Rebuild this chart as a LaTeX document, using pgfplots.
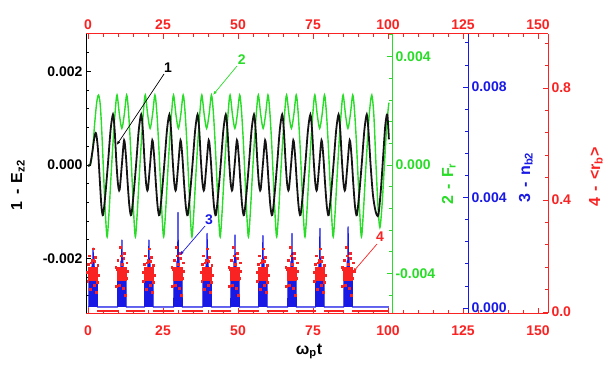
\documentclass[border=0pt]{standalone}
\usepackage{pgfplots}
\pgfplotsset{compat=1.18}
\usepackage{fontspec}
\setmainfont{Liberation Sans}
\usetikzlibrary{arrows.meta}
\definecolor{myred}{RGB}{250,35,35}
\definecolor{mygreen}{RGB}{40,220,40}
\definecolor{myblue}{RGB}{25,25,230}
\definecolor{myblack}{RGB}{20,20,20}
\begin{document}
\begin{tikzpicture}
\useasboundingbox (0pt,0pt) rectangle (604pt,365pt);
\pgfplotsset{every axis/.append style={scale only axis, anchor=south west, at={(86pt,52pt)}, height=279pt, xmin=-0.667,
  tick align=inside, major tick length=5pt, minor tick length=3pt,
  axis line style={-, line width=1pt}, every tick/.append style={line width=0.8pt},
  tick label style={font=\fontsize{14}{16}\selectfont\bfseries},
  /pgf/number format/assume math mode=true,
  scaled y ticks=false, scaled x ticks=false}}
% ---------------- green axis (2 - F_r)
\begin{axis}[width=306pt, xmax=101.333, ymin=-0.005456, ymax=0.004830,
  axis x line=none, axis y line*=right, y axis line style={mygreen},
  ytick={-0.004,0,0.004}, yticklabels={-0.004,0.000,0.004},
  minor ytick={-0.0048,-0.0032,-0.0024,-0.0016,-0.0008,0.0008,0.0016,0.0024,0.0032,0.0048},
  ytick style={mygreen}, yticklabel style={mygreen}]
\addplot[mygreen, line width=1.4pt, smooth, tension=0.5] coordinates {
(0,0) (0.8,0) (1.5,0.0005) (2.2,0.0015) (2.9,0.0023) (3.5,0.00258) (4.1,0.0022) (4.7,0.001) (5.3,-0.0006) (5.85,-0.0019)
(6.38,-0.00265) (6.98,-0.0018) (7.68,-0.0004) (8.38,0.0009) (9.08,0.002) (9.68,0.00258) (10.48,0.00185) (11.28,0.00135) (12.08,0.00185) (12.88,0.00258) (13.48,0.002) (14.08,0.0009) (14.68,-0.0005) (15.28,-0.0019)
(15.8,-0.00265) (16.4,-0.0018) (17.1,-0.0004) (17.8,0.0009) (18.5,0.002) (19.1,0.00258) (19.9,0.00185) (20.7,0.00135) (21.5,0.00185) (22.3,0.00258) (22.9,0.002) (23.5,0.0009) (24.1,-0.0005) (24.7,-0.0019)
(25.22,-0.00265) (25.82,-0.0018) (26.52,-0.0004) (27.22,0.0009) (27.92,0.002) (28.52,0.00258) (29.32,0.00185) (30.12,0.00135) (30.92,0.00185) (31.72,0.00258) (32.32,0.002) (32.92,0.0009) (33.52,-0.0005) (34.12,-0.0019)
(34.64,-0.00265) (35.24,-0.0018) (35.94,-0.0004) (36.64,0.0009) (37.34,0.002) (37.94,0.00258) (38.74,0.00185) (39.54,0.00135) (40.34,0.00185) (41.14,0.00258) (41.74,0.002) (42.34,0.0009) (42.94,-0.0005) (43.54,-0.0019)
(44.06,-0.00265) (44.66,-0.0018) (45.36,-0.0004) (46.06,0.0009) (46.76,0.002) (47.36,0.00258) (48.16,0.00185) (48.96,0.00135) (49.76,0.00185) (50.56,0.00258) (51.16,0.002) (51.76,0.0009) (52.36,-0.0005) (52.96,-0.0019)
(53.48,-0.00265) (54.08,-0.0018) (54.78,-0.0004) (55.48,0.0009) (56.18,0.002) (56.78,0.00258) (57.58,0.00185) (58.38,0.00135) (59.18,0.00185) (59.98,0.00258) (60.58,0.002) (61.18,0.0009) (61.78,-0.0005) (62.38,-0.0019)
(62.9,-0.00265) (63.5,-0.0018) (64.2,-0.0004) (64.9,0.0009) (65.6,0.002) (66.2,0.00258) (67.0,0.00185) (67.8,0.00135) (68.6,0.00185) (69.4,0.00258) (70.0,0.002) (70.6,0.0009) (71.2,-0.0005) (71.8,-0.0019)
(72.32,-0.00265) (72.92,-0.0018) (73.62,-0.0004) (74.32,0.0009) (75.02,0.002) (75.62,0.00258) (76.42,0.00185) (77.22,0.00135) (78.02,0.00185) (78.82,0.00258) (79.42,0.002) (80.02,0.0009) (80.62,-0.0005) (81.22,-0.0019)
(81.74,-0.00265) (82.34,-0.0018) (83.04,-0.0004) (83.74,0.0009) (84.44,0.002) (85.04,0.00258) (85.84,0.00185) (86.64,0.00135) (87.44,0.00185) (88.24,0.00258) (88.84,0.002) (89.44,0.0009) (90.04,-0.0005) (90.64,-0.0019)
(91.16,-0.00265) (91.76,-0.0018) (92.46,-0.0004) (93.16,0.0009) (93.86,0.002) (94.6,0.00258) (95.3,0.0018) (96.0,0) (96.7,-0.0016) (97.3,-0.0023) (98.0,-0.0015) (98.8,0) (99.6,0.0015) (100.3,0.0023)
};
\end{axis}
% ---------------- black axis (1 - E_z2) with bottom x axis
\begin{axis}[width=462pt, xmax=153.333, ymin=-0.003166, ymax=0.002802,
  axis x line*=bottom, axis y line*=left, x axis line style={myred}, y axis line style={black},
  xtick={0,25,50,75,100,125,150}, xticklabels={0,25,50,75,100,125,150},
  minor xtick={5,10,15,20,30,35,40,45,55,60,65,70,80,85,90,95,105,110,115,120,130,135,140,145},
  xtick style={myred}, xticklabel style={myred, yshift=-9pt},
  ytick={-0.002,0,0.002}, yticklabels={-0.002,0.000,0.002},
  minor ytick={-0.0028,-0.0024,-0.0016,-0.0012,-0.0008,-0.0004,0.0004,0.0008,0.0012,0.0016,0.0024},
  ytick style={black}, yticklabel style={black}]
\addplot[myblack, line width=1.8pt, smooth, tension=0.5] coordinates {
(0,0) (0.7,0) (1.5,0.0003) (2.1,0.00058) (2.67,0.00068) (3.3,0.00035) (4.0,-0.0004) (4.5,-0.0009) (5.03,-0.00107) (5.83,-0.0006) (6.68,0.00005) (7.53,0.00075)
(8.33,0.00108) (8.88,0.00075) (9.43,0.0001) (9.98,-0.0004) (10.53,-0.00053) (11.28,0) (12.03,0.00053) (12.63,0.0002) (13.23,-0.0004) (13.83,-0.0009) (14.43,-0.00107) (15.23,-0.0006) (16.08,0.00005) (16.93,0.00075)
(17.73,0.00108) (18.28,0.00075) (18.83,0.0001) (19.38,-0.0004) (19.93,-0.00053) (20.68,0) (21.43,0.00053) (22.03,0.0002) (22.63,-0.0004) (23.23,-0.0009) (23.83,-0.00107) (24.63,-0.0006) (25.48,0.00005) (26.33,0.00075)
(27.13,0.00108) (27.68,0.00075) (28.23,0.0001) (28.78,-0.0004) (29.33,-0.00053) (30.08,0) (30.83,0.00053) (31.43,0.0002) (32.03,-0.0004) (32.63,-0.0009) (33.23,-0.00107) (34.03,-0.0006) (34.88,0.00005) (35.73,0.00075)
(36.53,0.00108) (37.08,0.00075) (37.63,0.0001) (38.18,-0.0004) (38.73,-0.00053) (39.48,0) (40.23,0.00053) (40.83,0.0002) (41.43,-0.0004) (42.03,-0.0009) (42.63,-0.00107) (43.43,-0.0006) (44.28,0.00005) (45.13,0.00075)
(45.93,0.00108) (46.48,0.00075) (47.03,0.0001) (47.58,-0.0004) (48.13,-0.00053) (48.88,0) (49.63,0.00053) (50.23,0.0002) (50.83,-0.0004) (51.43,-0.0009) (52.03,-0.00107) (52.83,-0.0006) (53.68,0.00005) (54.53,0.00075)
(55.33,0.00108) (55.88,0.00075) (56.43,0.0001) (56.98,-0.0004) (57.53,-0.00053) (58.28,0) (59.03,0.00053) (59.63,0.0002) (60.23,-0.0004) (60.83,-0.0009) (61.43,-0.00107) (62.23,-0.0006) (63.08,0.00005) (63.93,0.00075)
(64.73,0.00108) (65.28,0.00075) (65.83,0.0001) (66.38,-0.0004) (66.93,-0.00053) (67.68,0) (68.43,0.00053) (69.03,0.0002) (69.63,-0.0004) (70.23,-0.0009) (70.83,-0.00107) (71.63,-0.0006) (72.48,0.00005) (73.33,0.00075)
(74.13,0.00108) (74.68,0.00075) (75.23,0.0001) (75.78,-0.0004) (76.33,-0.00053) (77.08,0) (77.83,0.00053) (78.43,0.0002) (79.03,-0.0004) (79.63,-0.0009) (80.23,-0.00107) (81.03,-0.0006) (81.88,0.00005) (82.73,0.00075)
(83.53,0.00108) (84.08,0.00075) (84.63,0.0001) (85.18,-0.0004) (85.73,-0.00053) (86.48,0) (87.23,0.00053) (87.83,0.0002) (88.43,-0.0004) (89.03,-0.0009) (89.63,-0.00107) (90.43,-0.0006) (91.28,0.00005) (92.13,0.00075)
(92.93,0.00108) (93.5,0.00072) (94.2,0) (95.0,-0.00065) (95.9,-0.001) (96.77,-0.00107) (97.6,-0.00055) (98.4,0.0002) (99.1,0.00085) (99.77,0.00108) (100.3,0.00055)
};
\end{axis}
% ---------------- blue axis (3 - n_b2)
\begin{axis}[width=382pt, xmax=126.667, ymin=-0.000181, ymax=0.009919,
  axis x line=none, axis y line*=right, y axis line style={myblue},
  ytick={0,0.004,0.008}, yticklabels={0.000,0.004,0.008},
  minor ytick={0.0008,0.0016,0.0024,0.0032,0.0048,0.0056,0.0064,0.0072,0.0088,0.0096},
  ytick style={myblue}, yticklabel style={myblue}]
\addplot[myblue, fill=myblue, line width=1.2pt, line join=round] coordinates {
(0.0,0.00004) (0.3,0.00004) (0.35,0.0011) (0.55,0.0007) (0.7,0.0012) (0.9,0.0008) (1.05,0.0014) (1.25,0.0009) (1.4,0.0017) (1.58,0.001) (1.7,0.00217) (1.82,0.001) (2.0,0.0018) (2.15,0.0009) (2.35,0.0014) (2.5,0.0008) (2.7,0.0012) (2.85,0.0007) (3.05,0.001) (3.1,0.00004) (3.4,0.00004)
(9.6,0.00004) (9.9,0.00004) (9.95,0.0011) (10.15,0.0007) (10.3,0.0012) (10.5,0.0008) (10.65,0.0014) (10.85,0.0009) (11.0,0.0017) (11.18,0.001) (11.3,0.00246) (11.42,0.001) (11.6,0.0018) (11.75,0.0009) (11.95,0.0014) (12.1,0.0008) (12.3,0.0012) (12.45,0.0007) (12.65,0.001) (12.7,0.00004) (13.0,0.00004)
(18.6,0.00004) (18.9,0.00004) (18.95,0.0011) (19.15,0.0007) (19.3,0.0012) (19.5,0.0008) (19.65,0.0014) (19.85,0.0009) (20.0,0.0017) (20.18,0.001) (20.3,0.00246) (20.42,0.001) (20.6,0.0018) (20.75,0.0009) (20.95,0.0014) (21.1,0.0008) (21.3,0.0012) (21.45,0.0007) (21.65,0.001) (21.7,0.00004) (22.0,0.00004)
(28.3,0.00004) (28.6,0.00004) (28.65,0.0011) (28.85,0.0007) (29.0,0.0012) (29.2,0.0008) (29.35,0.0014) (29.55,0.0009) (29.7,0.0017) (29.88,0.001) (30.0,0.00346) (30.12,0.001) (30.3,0.0018) (30.45,0.0009) (30.65,0.0014) (30.8,0.0008) (31.0,0.0012) (31.15,0.0007) (31.35,0.001) (31.4,0.00004) (31.7,0.00004)
(38.0,0.00004) (38.3,0.00004) (38.35,0.0011) (38.55,0.0007) (38.7,0.0012) (38.9,0.0008) (39.05,0.0014) (39.25,0.0009) (39.4,0.0017) (39.58,0.001) (39.7,0.0027) (39.82,0.001) (40.0,0.0018) (40.15,0.0009) (40.35,0.0014) (40.5,0.0008) (40.7,0.0012) (40.85,0.0007) (41.05,0.001) (41.1,0.00004) (41.4,0.00004)
(47.3,0.00004) (47.6,0.00004) (47.65,0.0011) (47.85,0.0007) (48.0,0.0012) (48.2,0.0008) (48.35,0.0014) (48.55,0.0009) (48.7,0.0017) (48.88,0.001) (49.0,0.00264) (49.12,0.001) (49.3,0.0018) (49.45,0.0009) (49.65,0.0014) (49.8,0.0008) (50.0,0.0012) (50.15,0.0007) (50.35,0.001) (50.4,0.00004) (50.7,0.00004)
(56.6,0.00004) (56.9,0.00004) (56.95,0.0011) (57.15,0.0007) (57.3,0.0012) (57.5,0.0008) (57.65,0.0014) (57.85,0.0009) (58.0,0.0017) (58.18,0.001) (58.3,0.00262) (58.42,0.001) (58.6,0.0018) (58.75,0.0009) (58.95,0.0014) (59.1,0.0008) (59.3,0.0012) (59.45,0.0007) (59.65,0.001) (59.7,0.00004) (60.0,0.00004)
(66.3,0.00004) (66.6,0.00004) (66.65,0.0011) (66.85,0.0007) (67.0,0.0012) (67.2,0.0008) (67.35,0.0014) (67.55,0.0009) (67.7,0.0017) (67.88,0.001) (68.0,0.0027) (68.12,0.001) (68.3,0.0018) (68.45,0.0009) (68.65,0.0014) (68.8,0.0008) (69.0,0.0012) (69.15,0.0007) (69.35,0.001) (69.4,0.00004) (69.7,0.00004)
(75.6,0.00004) (75.9,0.00004) (75.95,0.0011) (76.15,0.0007) (76.3,0.0012) (76.5,0.0008) (76.65,0.0014) (76.85,0.0009) (77.0,0.0017) (77.18,0.001) (77.3,0.00288) (77.42,0.001) (77.6,0.0018) (77.75,0.0009) (77.95,0.0014) (78.1,0.0008) (78.3,0.0012) (78.45,0.0007) (78.65,0.001) (78.7,0.00004) (79.0,0.00004)
(85.0,0.00004) (85.3,0.00004) (85.35,0.0011) (85.55,0.0007) (85.7,0.0012) (85.9,0.0008) (86.05,0.0014) (86.25,0.0009) (86.4,0.0017) (86.58,0.001) (86.7,0.00294) (86.82,0.001) (87.0,0.0018) (87.15,0.0009) (87.35,0.0014) (87.5,0.0008) (87.7,0.0012) (87.85,0.0007) (88.05,0.001) (88.1,0.00004) (88.4,0.00004)
(100.3,0.00004)
};
\end{axis}
% ---------------- red axis (4 - <r_b>) with top x axis
\begin{axis}[width=462pt, xmax=153.333, ymin=-0.0036, ymax=0.9929,
  axis x line*=top, axis y line*=right, x axis line style={myred}, y axis line style={myred},
  xtick={0,25,50,75,100,125,150}, xticklabels={0,25,50,75,100,125,150},
  minor xtick={5,10,15,20,30,35,40,45,55,60,65,70,80,85,90,95,105,110,115,120,130,135,140,145},
  xtick style={myred}, xticklabel style={myred, yshift=1pt},
  ytick={0,0.4,0.8}, yticklabels={0.0,0.4,0.8},
  minor ytick={0.08,0.16,0.24,0.32,0.48,0.56,0.64,0.72,0.88,0.96},
  ytick style={myred}, yticklabel style={myred}, unbounded coords=jump]
\addplot[myred, line width=1.3pt] coordinates {(0,0.004) (0.3,0.004) (0.4,nan) (3.1,0.004) (9.9,0.004) (10,nan) (12.7,0.004) (18.9,0.004) (19,nan) (21.7,0.004) (28.6,0.004) (29,nan) (31.4,0.004) (38.3,0.004) (39,nan) (41.1,0.004) (47.6,0.004) (48,nan) (50.4,0.004) (56.9,0.004) (57,nan) (59.7,0.004) (66.6,0.004) (67,nan) (69.4,0.004) (75.9,0.004) (76,nan) (78.7,0.004) (85.3,0.004) (86,nan) (88.1,0.004) (100.3,0.004)};
\addplot[myred, only marks, mark=square*, mark size=1.7pt, mark options={solid, draw=myred, fill=myred, line width=0pt}] coordinates {
(0.7,0.12) (1.2,0.12) (1.7,0.12) (2.2,0.12) (2.7,0.12) (0.7,0.1305) (1.2,0.1305) (1.7,0.1305) (2.2,0.1305) (2.7,0.1305) (0.7,0.141) (1.2,0.141) (1.7,0.141) (2.2,0.141) (2.7,0.141) (0.7,0.1515) (1.2,0.1515) (1.7,0.1515) (2.2,0.1515) (2.7,0.1515)
(10.3,0.12) (10.8,0.12) (11.3,0.12) (11.8,0.12) (12.3,0.12) (10.3,0.1305) (10.8,0.1305) (11.3,0.1305) (11.8,0.1305) (12.3,0.1305) (10.3,0.141) (10.8,0.141) (11.3,0.141) (11.8,0.141) (12.3,0.141) (10.3,0.1515) (10.8,0.1515) (11.3,0.1515) (11.8,0.1515) (12.3,0.1515)
(19.3,0.12) (19.8,0.12) (20.3,0.12) (20.8,0.12) (21.3,0.12) (19.3,0.1305) (19.8,0.1305) (20.3,0.1305) (20.8,0.1305) (21.3,0.1305) (19.3,0.141) (19.8,0.141) (20.3,0.141) (20.8,0.141) (21.3,0.141) (19.3,0.1515) (19.8,0.1515) (20.3,0.1515) (20.8,0.1515) (21.3,0.1515)
(29.0,0.12) (29.5,0.12) (30.0,0.12) (30.5,0.12) (31.0,0.12) (29.0,0.1305) (29.5,0.1305) (30.0,0.1305) (30.5,0.1305) (31.0,0.1305) (29.0,0.141) (29.5,0.141) (30.0,0.141) (30.5,0.141) (31.0,0.141) (29.0,0.1515) (29.5,0.1515) (30.0,0.1515) (30.5,0.1515) (31.0,0.1515)
(38.7,0.12) (39.2,0.12) (39.7,0.12) (40.2,0.12) (40.7,0.12) (38.7,0.1305) (39.2,0.1305) (39.7,0.1305) (40.2,0.1305) (40.7,0.1305) (38.7,0.141) (39.2,0.141) (39.7,0.141) (40.2,0.141) (40.7,0.141) (38.7,0.1515) (39.2,0.1515) (39.7,0.1515) (40.2,0.1515) (40.7,0.1515)
(48.0,0.12) (48.5,0.12) (49.0,0.12) (49.5,0.12) (50.0,0.12) (48.0,0.1305) (48.5,0.1305) (49.0,0.1305) (49.5,0.1305) (50.0,0.1305) (48.0,0.141) (48.5,0.141) (49.0,0.141) (49.5,0.141) (50.0,0.141) (48.0,0.1515) (48.5,0.1515) (49.0,0.1515) (49.5,0.1515) (50.0,0.1515)
(57.3,0.12) (57.8,0.12) (58.3,0.12) (58.8,0.12) (59.3,0.12) (57.3,0.1305) (57.8,0.1305) (58.3,0.1305) (58.8,0.1305) (59.3,0.1305) (57.3,0.141) (57.8,0.141) (58.3,0.141) (58.8,0.141) (59.3,0.141) (57.3,0.1515) (57.8,0.1515) (58.3,0.1515) (58.8,0.1515) (59.3,0.1515)
(67.0,0.12) (67.5,0.12) (68.0,0.12) (68.5,0.12) (69.0,0.12) (67.0,0.1305) (67.5,0.1305) (68.0,0.1305) (68.5,0.1305) (69.0,0.1305) (67.0,0.141) (67.5,0.141) (68.0,0.141) (68.5,0.141) (69.0,0.141) (67.0,0.1515) (67.5,0.1515) (68.0,0.1515) (68.5,0.1515) (69.0,0.1515)
(76.3,0.12) (76.8,0.12) (77.3,0.12) (77.8,0.12) (78.3,0.12) (76.3,0.1305) (76.8,0.1305) (77.3,0.1305) (77.8,0.1305) (78.3,0.1305) (76.3,0.141) (76.8,0.141) (77.3,0.141) (77.8,0.141) (78.3,0.141) (76.3,0.1515) (76.8,0.1515) (77.3,0.1515) (77.8,0.1515) (78.3,0.1515)
(85.7,0.12) (86.2,0.12) (86.7,0.12) (87.2,0.12) (87.7,0.12) (85.7,0.1305) (86.2,0.1305) (86.7,0.1305) (87.2,0.1305) (87.7,0.1305) (85.7,0.141) (86.2,0.141) (86.7,0.141) (87.2,0.141) (87.7,0.141) (85.7,0.1515) (86.2,0.1515) (86.7,0.1515) (87.2,0.1515) (87.7,0.1515)
};
\addplot[myred, only marks, mark=square*, mark size=0.9pt, mark options={solid, draw=myred, fill=myred, line width=0pt}] coordinates {
(0.2,0.17) (3.1,0.105) (1.4,0.185) (2.1,0.095) (0.0,0.11) (3.3,0.165) (2.6,0.195) (0.9,0.08) (1.8,0.225) (0.5,0.2) (2.9,0.07) (1.1,0.175) (2.3,0.18) (-0.2,0.14) (3.6,0.13)
(9.7,0.15) (12.8,0.12) (11.1,0.2) (11.8,0.085) (10.0,0.185) (13.0,0.175) (12.1,0.21) (10.4,0.095) (11.5,0.17) (9.5,0.09) (12.4,0.06) (10.8,0.23) (12.0,0.19) (9.3,0.16) (13.3,0.145)
(18.8,0.17) (21.7,0.105) (20.0,0.185) (20.7,0.095) (18.6,0.11) (21.9,0.165) (21.2,0.195) (19.5,0.08) (20.4,0.225) (19.1,0.2) (21.5,0.07) (19.7,0.175) (20.9,0.18) (18.4,0.14) (22.2,0.13)
(28.4,0.15) (31.5,0.12) (29.8,0.2) (30.5,0.085) (28.7,0.185) (31.7,0.175) (30.8,0.21) (29.1,0.095) (30.2,0.17) (28.2,0.09) (31.1,0.06) (29.5,0.23) (30.7,0.19) (28.0,0.16) (32.0,0.145)
(38.2,0.17) (41.1,0.105) (39.4,0.185) (40.1,0.095) (38.0,0.11) (41.3,0.165) (40.6,0.195) (38.9,0.08) (39.8,0.225) (38.5,0.2) (40.9,0.07) (39.1,0.175) (40.3,0.18) (37.8,0.14) (41.6,0.13)
(47.4,0.15) (50.5,0.12) (48.8,0.2) (49.5,0.085) (47.7,0.185) (50.7,0.175) (49.8,0.21) (48.1,0.095) (49.2,0.17) (47.2,0.09) (50.1,0.06) (48.5,0.23) (49.7,0.19) (47.0,0.16) (51.0,0.145)
(56.8,0.17) (59.7,0.105) (58.0,0.185) (58.7,0.095) (56.6,0.11) (59.9,0.165) (59.2,0.195) (57.5,0.08) (58.4,0.225) (57.1,0.2) (59.5,0.07) (57.7,0.175) (58.9,0.18) (56.4,0.14) (60.2,0.13)
(66.4,0.15) (69.5,0.12) (67.8,0.2) (68.5,0.085) (66.7,0.185) (69.7,0.175) (68.8,0.21) (67.1,0.095) (68.2,0.17) (66.2,0.09) (69.1,0.06) (67.5,0.23) (68.7,0.19) (66.0,0.16) (70.0,0.145)
(75.8,0.17) (78.7,0.105) (77.0,0.185) (77.7,0.095) (75.6,0.11) (78.9,0.165) (78.2,0.195) (76.5,0.08) (77.4,0.225) (76.1,0.2) (78.5,0.07) (76.7,0.175) (77.9,0.18) (75.4,0.14) (79.2,0.13)
(85.1,0.15) (88.2,0.12) (86.5,0.2) (87.2,0.085) (85.4,0.185) (88.4,0.175) (87.5,0.21) (85.8,0.095) (86.9,0.17) (84.9,0.09) (87.8,0.06) (86.2,0.23) (87.4,0.19) (84.7,0.16) (88.7,0.145)
};
\end{axis}
% ---------------- annotations
\node[font=\fontsize{14}{16}\selectfont\bfseries, text=black] at (168pt,297pt) {1};
\draw[black, line width=0.7pt, -{Latex[length=4pt,width=3pt]}] (164pt,291pt) -- (116.7pt,220pt);
\node[font=\fontsize{14}{16}\selectfont\bfseries, text=mygreen] at (241.7pt,305pt) {2};
\draw[mygreen, line width=0.7pt, -{Latex[length=4pt,width=3pt]}] (237pt,299pt) -- (213pt,270pt);
\node[font=\fontsize{14}{16}\selectfont\bfseries, text=myblue] at (209pt,145pt) {3};
\draw[myblue, line width=0.7pt, -{Latex[length=4pt,width=3pt]}] (205pt,139pt) -- (180pt,110pt);
\node[font=\fontsize{14}{16}\selectfont\bfseries, text=myred] at (380pt,128pt) {4};
\draw[myred, line width=0.7pt, -{Latex[length=4pt,width=3pt]}] (377pt,121pt) -- (353pt,93pt);
% ---------------- axis labels
\node[rotate=90, anchor=base, font=\fontsize{16}{18}\selectfont\bfseries, text=black] at (22pt,180pt) {1\hspace{0.4em}-\hspace{0.4em}E\textsubscript{z2}};
\node[rotate=90, anchor=base, font=\fontsize{16}{18}\selectfont\bfseries, text=mygreen] at (453pt,181pt) {2\hspace{0.4em}-\hspace{0.4em}F\textsubscript{r}};
\node[rotate=90, anchor=base, font=\fontsize{16}{18}\selectfont\bfseries, text=myblue] at (530pt,187.5pt) {3\hspace{0.4em}-\hspace{0.4em}n\textsubscript{b2}};
\node[rotate=90, anchor=base, font=\fontsize{16}{18}\selectfont\bfseries, text=myred] at (600pt,188pt) {4\hspace{0.4em}-\hspace{0.4em}<r\textsubscript{b}>};
\node[anchor=base, font=\fontsize{16}{18}\selectfont\bfseries, text=black] at (309pt,11pt) {ω\textsubscript{p}t};
\end{tikzpicture}
\end{document}
